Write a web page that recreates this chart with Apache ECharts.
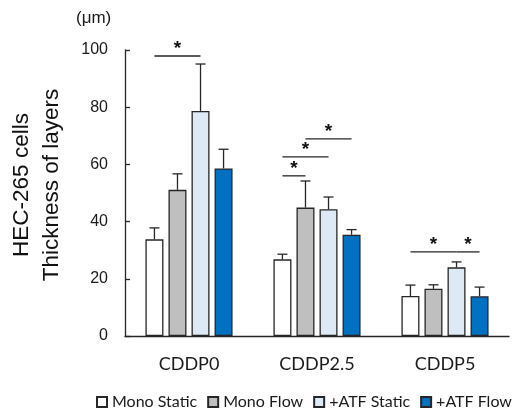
<!DOCTYPE html>
<html>
<head>
<meta charset="utf-8">
<script src="https://cdn.jsdelivr.net/npm/echarts@6/dist/echarts.min.js"></script>
<style>
html,body{margin:0;padding:0;background:#fff;}
#chart{width:515px;height:416px;}
</style>
</head>
<body>
<div id="chart"></div>
<script>
// data
var categories = ['CDDP0', 'CDDP2.5', 'CDDP5'];
var seriesNames = ['Mono Static', 'Mono Flow', '+ATF Static', '+ATF Flow'];
var monoStatic = [33.8, 26.8, 14.0];
var monoFlow = [51.1, 44.9, 16.5];
var atfStatic = [78.7, 44.3, 24.0];
var atfFlow = [58.6, 35.4, 13.9];
// top of each error bar (mean + SD)
var monoStaticErr = [37.8, 28.6, 17.8];
var monoFlowErr = [56.7, 54.2, 17.9];
var atfStaticErr = [95.1, 48.6, 25.9];
var atfFlowErr = [65.3, 37.2, 17.1];
var yTicks = [0, 20, 40, 60, 80, 100];
// significance brackets: [category, from bar, to bar, height]
var sigPairs = [
  [0, 0, 2, 97.9],
  [1, 0, 1, 56.0],
  [1, 0, 2, 62.6],
  [1, 1, 3, 68.9],
  [2, 0, 2, 29.4],
  [2, 2, 3, 29.4]
];

var colors = ['#ffffff', '#bfbfbf', '#dde9f5', '#0070c0'];
var values = [monoStatic, monoFlow, atfStatic, atfFlow];
var errTops = [monoStaticErr, monoFlowErr, atfStaticErr, atfFlowErr];

var BAR_W = 18;
var BAR_GAP = 0.28;
var PITCH = BAR_W * (1 + BAR_GAP);
function barOffset(i) { return (i - 1.5) * PITCH; }

var chart = echarts.init(document.getElementById('chart'));

var series = [];
seriesNames.forEach(function (name, i) {
  series.push({
    name: name,
    type: 'bar',
    data: values[i],
    barWidth: BAR_W,
    barGap: (BAR_GAP * 100) + '%',
    itemStyle: { color: colors[i], borderColor: '#262626', borderWidth: 1.3 },
    z: 2
  });
});

// error bars (upper whisker only)
seriesNames.forEach(function (name, i) {
  var d = values[i].map(function (v, k) { return [k, v, errTops[i][k]]; });
  series.push({
    type: 'custom',
    silent: true,
    z: 1,
    data: d,
    renderItem: function (params, api) {
      var base = api.coord([api.value(0), api.value(1)]);
      var top = api.coord([api.value(0), api.value(2)]);
      var x = base[0] + barOffset(i);
      return {
        type: 'group',
        children: [
          { type: 'line', shape: { x1: x, y1: base[1], x2: x, y2: top[1] }, style: { stroke: '#262626', lineWidth: 1.3 } },
          { type: 'line', shape: { x1: x - 5, y1: top[1], x2: x + 5, y2: top[1] }, style: { stroke: '#262626', lineWidth: 1.3 } }
        ]
      };
    }
  });
});

// significance markers
series.push({
  type: 'custom',
  silent: true,
  z: 3,
  data: sigPairs,
  renderItem: function (params, api) {
    var p = api.coord([api.value(0), api.value(3)]);
    var x1 = p[0] + barOffset(api.value(1));
    var x2 = p[0] + barOffset(api.value(2));
    return {
      type: 'group',
      children: [
        { type: 'line', shape: { x1: x1, y1: p[1], x2: x2, y2: p[1] }, style: { stroke: '#262626', lineWidth: 1.3 } },
        { type: 'text', x: (x1 + x2) / 2, y: p[1] + 2, style: { text: '*', fill: '#111', font: 'bold 19px "Liberation Sans", Arial', align: 'center', verticalAlign: 'bottom' } }
      ]
    };
  }
});

var option = {
  backgroundColor: '#ffffff',
  animation: false,
  grid: { left: 125, right: 6, top: 50, bottom: 80, containLabel: false, outerBoundsMode: 'none' },
  legend: {
    data: seriesNames,
    left: 96,
    top: 394,
    width: 420,
    padding: 0,
    icon: 'rect',
    itemWidth: 10,
    itemHeight: 10,
    itemGap: 10,
    textStyle: { fontFamily: 'Lato, "Open Sans", sans-serif', fontSize: 16, color: '#1a1a1a', padding: [0, 0, 0, 0] }
  },
  graphic: [
    { type: 'text', left: 76, top: 10, style: { text: '(μm)', font: '17px "Liberation Sans", Arial', fill: '#1a1a1a' } }
  ],
  xAxis: {
    type: 'category',
    data: categories,
    axisLine: { lineStyle: { color: '#262626', width: 1.3 } },
    axisTick: { show: false },
    axisLabel: { margin: 19, fontFamily: 'Lato, "Open Sans", sans-serif', fontSize: 18, color: '#1a1a1a' }
  },
  yAxis: {
    type: 'value',
    min: 0,
    max: 100,
    interval: 20,
    name: 'HEC-265 cells\nThickness of layers',
    nameLocation: 'middle',
    nameRotate: 90,
    nameGap: 58,
    nameTextStyle: { fontFamily: '"Liberation Sans", Arial', fontSize: 22.5, color: '#111', lineHeight: 30, padding: [0, 0, 0, 16] },
    axisLine: { show: true, lineStyle: { color: '#262626', width: 1.3 } },
    axisTick: { show: true, inside: true, length: 5, lineStyle: { color: '#262626', width: 1.3 } },
    splitLine: { show: false },
    axisLabel: {
      margin: 17,
      fontFamily: '"Liberation Sans", Arial',
      fontSize: 16,
      color: '#1a1a1a',
      formatter: function (v) { return yTicks.indexOf(v) >= 0 ? String(v) : ''; }
    }
  },
  series: series
};

chart.setOption(option);
</script>
</body>
</html>
